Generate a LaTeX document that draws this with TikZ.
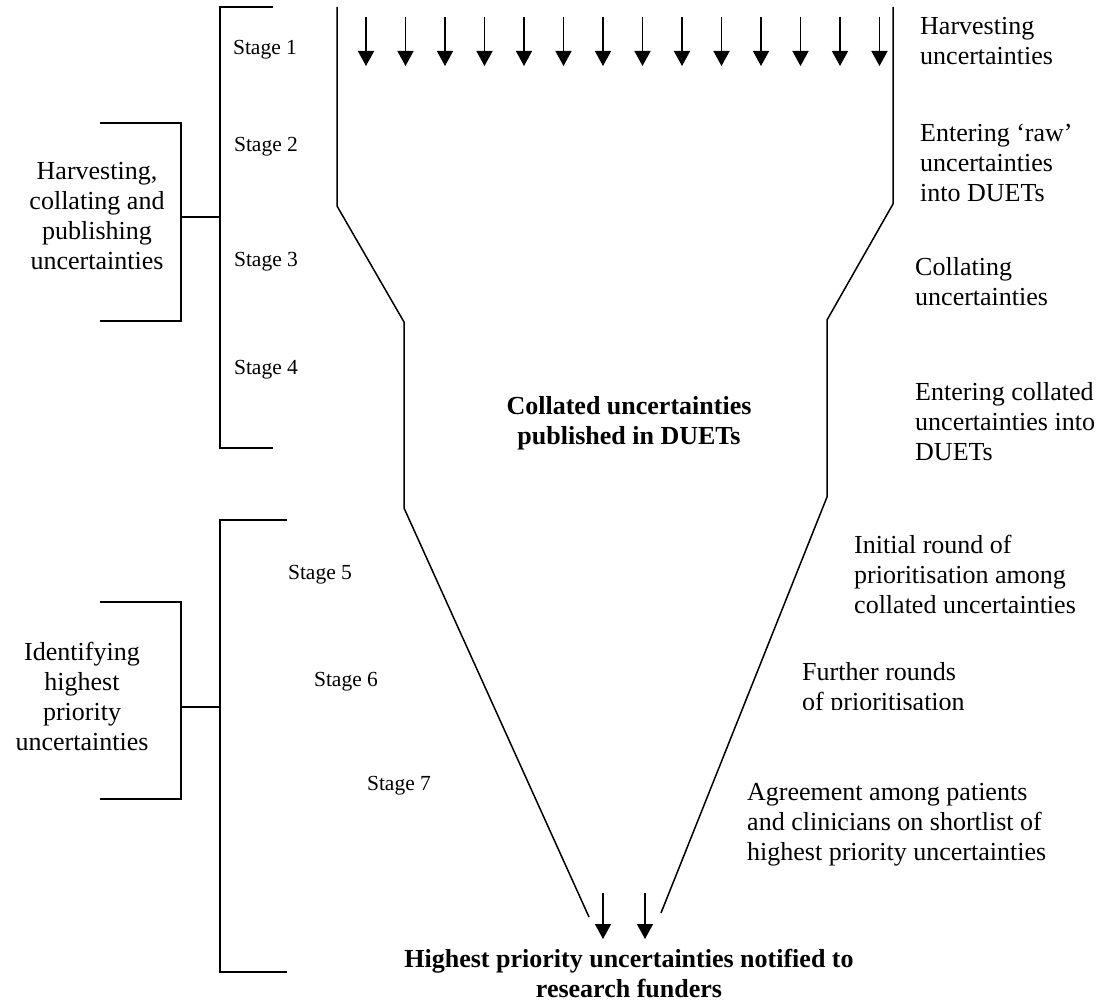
\documentclass[tikz,border=0pt]{standalone}
\usepackage{fontspec}
\setmainfont{Liberation Serif}
\usetikzlibrary{arrows.meta,calc}
\begin{document}
\begin{tikzpicture}[x=1pt,y=-1pt,
  ln/.style={line width=1.5pt,line join=miter},
  arr/.style={line width=1.5pt,-{Triangle[width=16pt,length=15pt]}},
  txt/.style={inner sep=0pt,font=\fontsize{26}{30}\selectfont},
  bold/.style={inner sep=0pt,font=\fontsize{26}{30}\selectfont\bfseries,align=center},
  stage/.style={inner sep=0pt,font=\fontsize{21.5}{25}\selectfont}]
\useasboundingbox (0,0) rectangle (1104,1006);

% funnel outline
\coordinate (L1) at (337,7);
\coordinate (L2) at (337,206);
\coordinate (L3) at (404,322);
\coordinate (L4) at (404,508);
\coordinate (L5) at (589,917);
\coordinate (R1) at (893,7);
\coordinate (R2) at (893,204);
\coordinate (R3) at (827,320);
\coordinate (R4) at (827,497);
\coordinate (R5) at (661,913);
\draw[ln] (L1) -- (L2) -- (L3) -- (L4) -- (L5);
\draw[ln] (R1) -- (R2) -- (R3) -- (R4) -- (R5);

% brackets (upper)
\coordinate (B1t) at (220,7);
\coordinate (B1b) at (220,448);
\draw[ln] ($(B1t)+(53,0)$) -- (B1t) -- (B1b) -- ($(B1b)+(53,0)$);
\coordinate (b1t) at (181,123);
\coordinate (b1b) at (181,321);
\draw[ln] (100,123) -- (b1t) -- (b1b) -- (100,321);
\draw[ln] (181,217) -- (220,217);

% brackets (lower)
\coordinate (B2t) at (220,520);
\coordinate (B2b) at (220,972);
\draw[ln] (287,520) -- (B2t) -- (B2b) -- (287,972);
\coordinate (b2t) at (181,602);
\coordinate (b2b) at (181,799);
\draw[ln] (100,602) -- (b2t) -- (b2b) -- (100,799);
\draw[ln] (181,707) -- (220,707);

% top arrows
\foreach \i in {0,...,13}{
  \coordinate (ta\i) at (366+39.5*\i,17);
  \coordinate (tb\i) at (366+39.5*\i,66);
  \draw[arr] (ta\i) -- (tb\i);
}
% bottom arrows
\coordinate (ba1) at (603,893);
\coordinate (bb1) at (603,939);
\coordinate (ba2) at (645,893);
\coordinate (bb2) at (645,939);
\draw[arr] (ba1) -- (bb1);
\draw[arr] (ba2) -- (bb2);

% stage labels
\node[stage] (s1) at (265,50) {Stage 1};
\node[stage] (s2) at (266,147) {Stage 2};
\node[stage] (s3) at (266,262) {Stage 3};
\node[stage] (s4) at (266,370) {Stage 4};
\node[stage] (s5) at (320,575) {Stage 5};
\node[stage] (s6) at (346,682) {Stage 6};
\node[stage] (s7) at (399,786) {Stage 7};

% left group labels
\node[txt,align=center] (g1) at (97,216) {Harvesting,\\collating and\\publishing\\uncertainties};
\node[txt,align=center] (g2) at (82,696) {Identifying\\highest\\priority\\uncertainties};

% right descriptions
\node[txt,align=left,anchor=west] (d1) at (920,41) {Harvesting\\uncertainties};
\node[txt,align=left,anchor=west] (d2) at (920,163) {Entering ‘raw’\\uncertainties\\into DUETs};
\node[txt,align=left,anchor=west] (d3) at (915,282) {Collating\\uncertainties};
\node[txt,align=left,anchor=west] (d4) at (915,422) {Entering collated\\uncertainties into\\DUETs};
\node[txt,align=left,anchor=west] (d5) at (854,574) {Initial round of\\prioritisation among\\collated uncertainties};
\begin{scope}
\clip (700,640) rectangle (1104,709);
\node[txt,align=left,anchor=west] (d6) at (802,689) {Further rounds\\of prioritisation};
\end{scope}
\node[txt,align=left,anchor=west] (d7) at (747,825) {Agreement among patients\\and clinicians on shortlist of\\highest priority uncertainties};

% centre texts
\node[bold] (c1) at (629,423) {Collated uncertainties\\published in DUETs};
\node[bold] (c2) at (629,973) {Highest priority uncertainties notified to\\research funders};
\end{tikzpicture}
\end{document}
